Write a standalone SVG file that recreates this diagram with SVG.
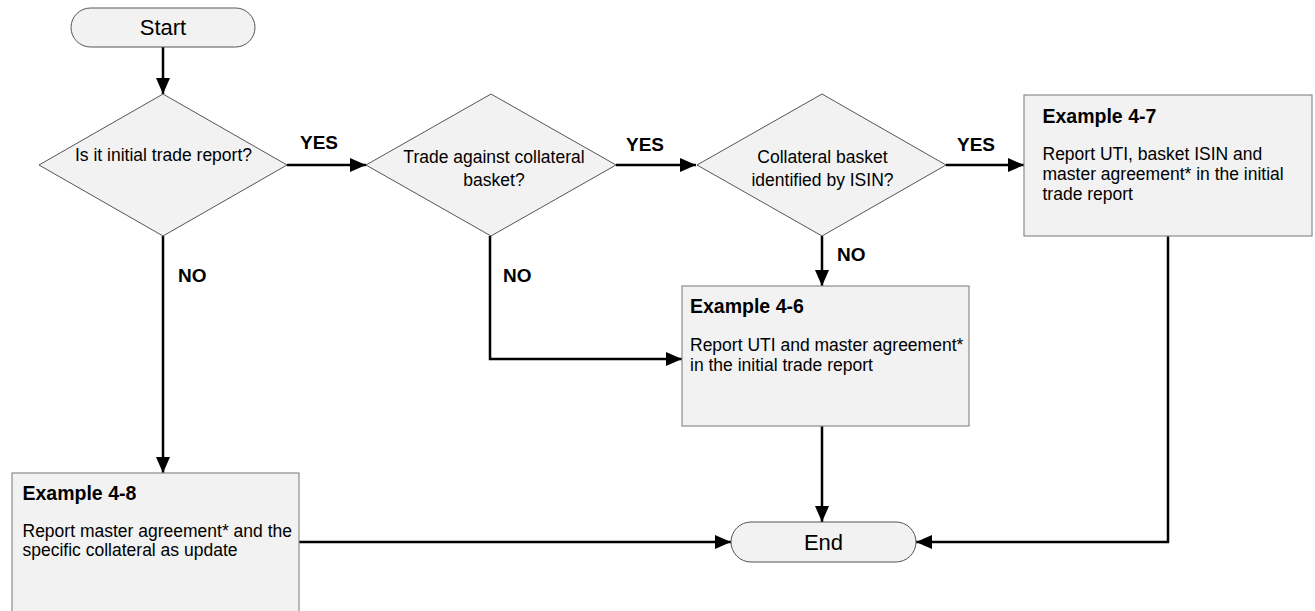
<svg xmlns="http://www.w3.org/2000/svg" width="1315" height="611" viewBox="0 0 1315 611">
<defs>
<marker id="ah" markerUnits="userSpaceOnUse" markerWidth="16" markerHeight="14" refX="16" refY="7" orient="auto">
<path d="M0,0 L16,7 L0,14 Z" fill="#000"/>
</marker>
<style>
.term{fill:#f2f2f2;stroke:#555;stroke-width:1}
.dia{fill:#f2f2f2;stroke:#555;stroke-width:1}
.box{fill:#f2f2f2;stroke:#8c8c8c;stroke-width:1.2}
.t{font-family:"Liberation Sans",Arial,sans-serif;fill:#000}
.tt{font-size:22px;text-anchor:middle}
.dt{font-size:17.5px;text-anchor:middle}
.h{font-size:19.5px;font-weight:bold}
.b{font-size:17.5px}
.lbl{font-size:19px;font-weight:bold}
.c{fill:none;stroke:#000;stroke-width:2.5}
</style>
</defs>
<rect width="1315" height="611" fill="#fff"/>
<g id="connectors">
<path class="c" d="M163,47 V94" marker-end="url(#ah)"/>
<path class="c" d="M287,165 H366" marker-end="url(#ah)"/>
<path class="c" d="M616,165 H696" marker-end="url(#ah)"/>
<path class="c" d="M946,165 H1024" marker-end="url(#ah)"/>
<path class="c" d="M163,236 V473" marker-end="url(#ah)"/>
<path class="c" d="M490,236 V359 H682" marker-end="url(#ah)"/>
<path class="c" d="M822,236 V286" marker-end="url(#ah)"/>
<path class="c" d="M822,426 V522" marker-end="url(#ah)"/>
<path class="c" d="M1168,236 V542 H916" marker-end="url(#ah)"/>
<path class="c" d="M299,542 H731" marker-end="url(#ah)"/>
<text class="t lbl" x="300" y="149">YES</text>
<text class="t lbl" x="626" y="151">YES</text>
<text class="t lbl" x="957" y="151">YES</text>
<text class="t lbl" x="178" y="282">NO</text>
<text class="t lbl" x="503" y="282">NO</text>
<text class="t lbl" x="837" y="261">NO</text>
</g>
<g id="start">
<rect class="term" x="71" y="8" width="184" height="39" rx="19.5"/>
<text class="t tt" x="163" y="35">Start</text>
</g>
<g id="d1">
<polygon class="dia" points="163,94 287,165 163,236 39,165"/>
<text class="t dt" x="163.5" y="161">Is it initial trade report?</text>
</g>
<g id="d2">
<polygon class="dia" points="491,94 616,165 491,236 366,165"/>
<text class="t dt" x="494" y="163">Trade against collateral</text>
<text class="t dt" x="494" y="186">basket?</text>
</g>
<g id="d3">
<polygon class="dia" points="822,94 946,165 822,236 697,165"/>
<text class="t dt" x="822.5" y="163">Collateral basket</text>
<text class="t dt" x="822.5" y="186">identified by ISIN?</text>
</g>
<g id="ex47">
<rect class="box" x="1024" y="95" width="288" height="141"/>
<text class="t h" x="1042.5" y="123">Example 4-7</text>
<text class="t b" x="1042.5" y="160">Report UTI, basket ISIN and</text>
<text class="t b" x="1042.5" y="180">master agreement* in the initial</text>
<text class="t b" x="1042.5" y="200">trade report</text>
</g>
<g id="ex46">
<rect class="box" x="682" y="286" width="287" height="140"/>
<text class="t h" x="690" y="313">Example 4-6</text>
<text class="t b" x="690" y="351">Report UTI and master agreement*</text>
<text class="t b" x="690" y="371">in the initial trade report</text>
</g>
<g id="ex48">
<rect class="box" x="12" y="473" width="287" height="140"/>
<text class="t h" x="22.5" y="500">Example 4-8</text>
<text class="t b" x="22.5" y="537">Report master agreement* and the</text>
<text class="t b" x="22.5" y="556">specific collateral as update</text>
</g>
<g id="end">
<rect class="term" x="731" y="522" width="185" height="40" rx="20"/>
<text class="t tt" x="823.5" y="550">End</text>
</g>
</svg>
